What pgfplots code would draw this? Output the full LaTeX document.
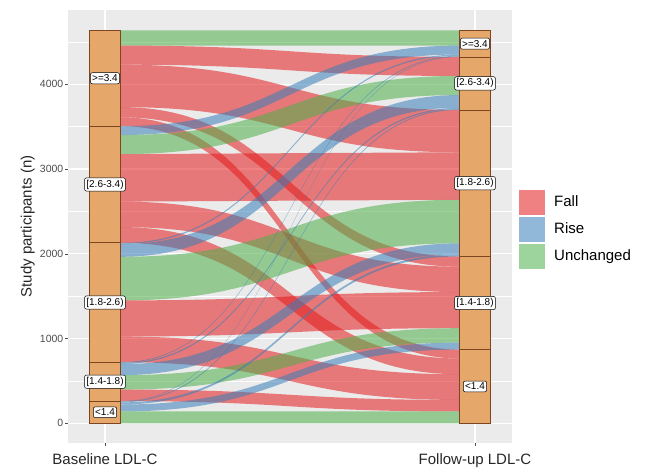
\documentclass[border=0pt]{standalone}
\usepackage{pgfplots}
\pgfplotsset{compat=1.18}
\usepackage{fontspec}
\setmainfont{Liberation Sans}

\definecolor{panelbg}{HTML}{EBEBEB}
\definecolor{fallc}{HTML}{E41A1C}
\definecolor{risec}{HTML}{377EB8}
\definecolor{unchc}{HTML}{4DAF4A}
\definecolor{stratfill}{HTML}{E6A76B}
\definecolor{stratdraw}{HTML}{7D4520}
\definecolor{tickgrey}{HTML}{4D4D4D}

% Flow counts (participants). Rows: baseline stratum; columns: follow-up stratum;
% both in the order >=3.4, [2.6-3.4), [1.8-2.6), [1.4-1.8), <1.4
\def\flowdata{{180,225,500,120,105,105,225,560,300,186,15,150,514,426,303,8,15,130,170,136,5,10,25,82,140}}

\expandafter\def\csname lab0\endcsname{>=3.4}
\expandafter\def\csname lab1\endcsname{[2.6-3.4)}
\expandafter\def\csname lab2\endcsname{[1.8-2.6)}
\expandafter\def\csname lab3\endcsname{[1.4-1.8)}
\expandafter\def\csname lab4\endcsname{<1.4}

\def\xLo{0.9583}\def\xL{1.0417}\def\xR{1.9583}\def\xRo{2.0417}

% total
\xdef\total{0}
\foreach \k in {0,...,24}{%
  \pgfmathtruncatemacro\tmps{\total+\flowdata[\k]}%
  \xdef\total{\tmps}}
% left (baseline) lode positions
\xdef\cum{\total}
\foreach \i in {0,...,4}{%
  \foreach \j in {0,...,4}{%
    \pgfmathtruncatemacro\tmpv{\flowdata[5*\i+\j]}%
    \expandafter\xdef\csname LT\i\j\endcsname{\cum}%
    \pgfmathtruncatemacro\tmpc{\cum-\tmpv}%
    \xdef\cum{\tmpc}%
    \expandafter\xdef\csname LB\i\j\endcsname{\cum}%
  }}
% right (follow-up) lode positions
\xdef\cum{\total}
\foreach \j in {0,...,4}{%
  \foreach \i in {0,...,4}{%
    \pgfmathtruncatemacro\tmpv{\flowdata[5*\i+\j]}%
    \expandafter\xdef\csname RT\i\j\endcsname{\cum}%
    \pgfmathtruncatemacro\tmpc{\cum-\tmpv}%
    \xdef\cum{\tmpc}%
    \expandafter\xdef\csname RB\i\j\endcsname{\cum}%
  }}
% flows
\gdef\flowlist{}
\foreach \i in {0,...,4}{%
  \foreach \j in {0,...,4}{%
    \pgfmathtruncatemacro\tmpv{\flowdata[5*\i+\j]}%
    \ifnum\tmpv>0
      \ifnum\j<\i \def\col{risec}\else\ifnum\j=\i \def\col{unchc}\else\def\col{fallc}\fi\fi
      \xdef\flowlist{\unexpanded\expandafter{\flowlist}\noexpand\flowband{\col}{\csname LT\i\j\endcsname}{\csname LB\i\j\endcsname}{\csname RT\i\j\endcsname}{\csname RB\i\j\endcsname}}%
    \fi
  }}
% strata and labels
\gdef\stratalist{}
\gdef\labellist{}
\foreach \i in {0,...,4}{%
  \xdef\stratalist{\unexpanded\expandafter{\stratalist}\noexpand\stratbox{\xLo}{\xL}{\csname LT\i0\endcsname}{\csname LB\i4\endcsname}\noexpand\stratbox{\xR}{\xRo}{\csname RT0\i\endcsname}{\csname RB4\i\endcsname}}%
  \pgfmathsetmacro\midL{(\csname LT\i0\endcsname+\csname LB\i4\endcsname)/2}%
  \pgfmathsetmacro\midR{(\csname RT0\i\endcsname+\csname RB4\i\endcsname)/2}%
  \xdef\labellist{\unexpanded\expandafter{\labellist}\noexpand\stratlabel{1}{\midL}{\expandafter\noexpand\csname lab\i\endcsname}\noexpand\stratlabel{2}{\midR}{\expandafter\noexpand\csname lab\i\endcsname}}%
}

\newcommand\flowband[5]{%
  \fill[#1, fill opacity=0.55] (axis cs:\xL,#2) .. controls (axis cs:1.5,#2) and (axis cs:1.5,#4) .. (axis cs:\xR,#4)
    -- (axis cs:\xR,#5) .. controls (axis cs:1.5,#5) and (axis cs:1.5,#3) .. (axis cs:\xL,#3) -- cycle;}
\newcommand\stratbox[4]{%
  \draw[stratdraw, fill=stratfill, line width=0.7pt] (axis cs:#1,#4) rectangle (axis cs:#2,#3);}
\newcommand\stratlabel[3]{%
  \node[draw=black, line width=0.5pt, fill=white, rounded corners=2pt, inner xsep=1.8pt, inner ysep=2pt,
        font=\fontsize{10}{11}\selectfont] at (axis cs:#1,#2) {#3};}

\begin{document}
\begin{tikzpicture}
\begin{axis}[
  scale only axis, width=444pt, height=433pt,
  xmin=0.9, xmax=2.1, ymin=-232, ymax=4875,
  axis background/.style={fill=panelbg},
  axis line style={draw=none},
  xtick={1,2}, xticklabels={Baseline LDL-C, Follow-up LDL-C},
  ytick={0,1000,2000,3000,4000},
  minor ytick={500,1500,2500,3500,4500},
  grid=both,
  major grid style={white, line width=1.1pt},
  minor grid style={white, line width=0.5pt},
  tick align=outside, major tick length=3pt, minor tick length=0pt,
  xtick pos=left, ytick pos=left,
  tick style={tickgrey, line width=0.5pt},
  /pgf/number format/1000 sep={},
  /pgf/number format/assume math mode=true,
  scaled y ticks=false,
  yticklabel style={font=\fontsize{10.5}{12}\selectfont, text=tickgrey, inner sep=1.5pt},
  xticklabel style={font=\fontsize{15}{18}\selectfont, text=black!85, inner sep=1pt, yshift=-6pt},
  ylabel={Study participants (n)},
  ylabel style={font=\fontsize{15}{18}\selectfont, text=black!85, at={(rel axis cs:0,0.5)}, anchor=south, yshift=33pt, inner sep=0pt},
  legend style={at={(1,0.494)}, anchor=west, xshift=4pt, draw=none, fill=none,
     font=\fontsize{15}{18}\selectfont, row sep=2pt, column sep=7pt, cells={anchor=west}},
  legend image code/.code={\fill[#1] (0pt,-12.5pt) rectangle (26pt,12.5pt);},
]
\addlegendimage{fill=fallc, fill opacity=0.55, draw=none}
\addlegendentry{Fall}
\addlegendimage{fill=risec, fill opacity=0.55, draw=none}
\addlegendentry{Rise}
\addlegendimage{fill=unchc, fill opacity=0.55, draw=none}
\addlegendentry{Unchanged}
\flowlist
\stratalist
\labellist
\coordinate (pSW) at (rel axis cs:0,0);
\coordinate (pNE) at (rel axis cs:1,1);
\end{axis}
\pgfresetboundingbox
\useasboundingbox ([xshift=-68pt,yshift=-26pt]pSW) rectangle ([xshift=137pt,yshift=10pt]pNE);
\end{tikzpicture}
\end{document}
